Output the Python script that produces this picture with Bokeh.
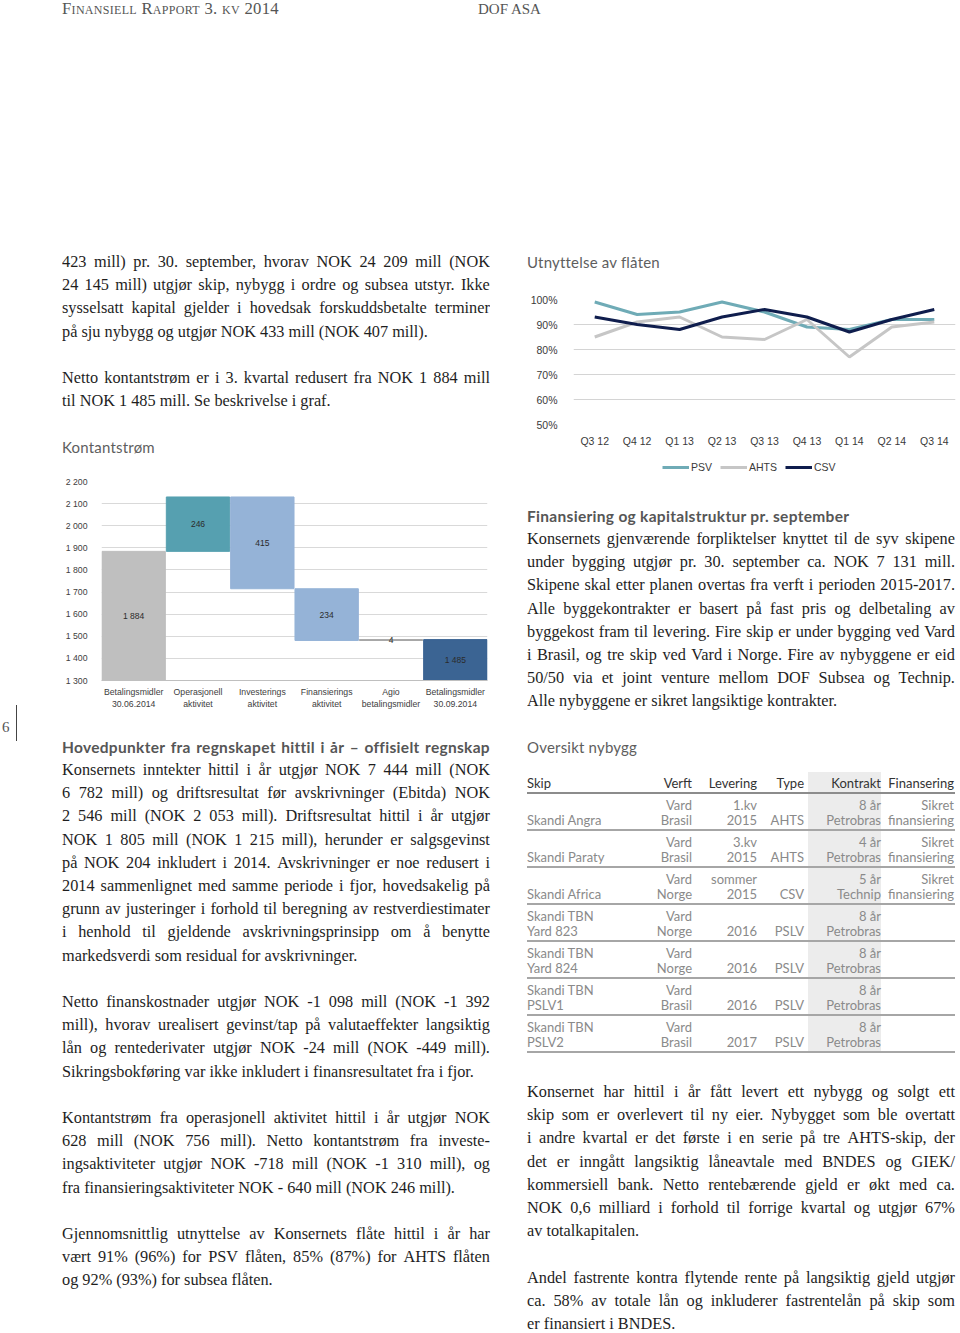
from bokeh.plotting import figure
from bokeh.models import (Div, FactorRange, FixedTicker, Legend, LegendItem,
                          ColumnDataSource, Range1d)
from bokeh.layouts import column, row
from bokeh.embed import file_html
from bokeh.resources import INLINE
from bokeh.core.properties import value

# ------------------------------------------------------------------ data
quarters = ["Q3 12", "Q4 12", "Q1 13", "Q2 13", "Q3 13", "Q4 13", "Q1 14", "Q2 14", "Q3 14"]
psv = [99, 94, 95, 99, 95, 89, 88, 92, 92]
ahts = [85, 91, 93, 85, 84, 92, 77, 89, 91]
csv_ = [93, 90, 88, 93, 96, 93, 87, 92, 96]
util_series = ["PSV", "AHTS", "CSV"]
util_colors = ["#6fabb6", "#c6c6c6", "#0f1d4d"]
util_ticks = [50, 60, 70, 80, 90, 100]
util_labels = ["50%", "60%", "70%", "80%", "90%", "100%"]

cash_categories = ["Betalingsmidler\n30.06.2014", "Operasjonell\naktivitet",
                   "Investerings\naktivitet", "Finansierings\naktivitet",
                   "Agio\nbetalingsmidler", "Betalingsmidler\n30.09.2014"]
cash_start = 1884
cash_changes = [246, -415, -234, 4]
cash_end = 1485
cash_ticks = [1300, 1400, 1500, 1600, 1700, 1800, 1900, 2000, 2100, 2200]
cash_tick_labels = ["1 300", "1 400", "1 500", "1 600", "1 700", "1 800",
                    "1 900", "2 000", "2 100", "2 200"]
cash_colors = ["#bfbfbf", "#56a0b0", "#95b3d7", "#95b3d7", "#a6a6a6", "#3b6493"]

header_left = "Finansiell Rapport 3. kv 2014"
header_right = "DOF ASA"
page_no = "6"

para_top_left = [
    ["423 mill) pr. 30. september, hvorav NOK 24 209 mill (NOK",
     "24 145 mill) utgjør skip, nybygg i ordre og subsea utstyr. Ikke",
     "sysselsatt kapital gjelder i hovedsak forskuddsbetalte terminer",
     "på sju nybygg og utgjør NOK 433 mill (NOK 407 mill)."],
    ["Netto kontantstrøm er i 3. kvartal redusert fra NOK 1 884 mill",
     "til NOK 1 485 mill. Se beskrivelse i graf."],
]
title_cash = "Kontantstrøm"
title_util = "Utnyttelse av flåten"

heading_fin = "Finansiering og kapitalstruktur pr. september"
para_fin = [
    ["Konsernets gjenværende forpliktelser knyttet til de syv skipene",
     "under bygging utgjør pr. 30. september ca. NOK 7 131 mill.",
     "Skipene skal etter planen overtas fra verft i perioden 2015-2017.",
     "Alle byggekontrakter er basert på fast pris og delbetaling av",
     "byggekost fram til levering. Fire skip er under bygging ved Vard",
     "i Brasil, og tre skip ved Vard i Norge. Fire av nybyggene er eid",
     "50/50 via et joint venture mellom DOF Subsea og Technip.",
     "Alle nybyggene er sikret langsiktige kontrakter."],
]

heading_main = "Hovedpunkter fra regnskapet hittil i år – offisielt regnskap"
para_main = [
    ["Konsernets inntekter hittil i år utgjør NOK 7 444 mill (NOK",
     "6 782 mill) og driftsresultat før avskrivninger (Ebitda) NOK",
     "2 546 mill (NOK 2 053 mill). Driftsresultat hittil i år utgjør",
     "NOK 1 805 mill (NOK 1 215 mill), herunder er salgsgevinst",
     "på NOK 204 inkludert i 2014. Avskrivninger er noe redusert i",
     "2014 sammenlignet med samme periode i fjor, hovedsakelig på",
     "grunn av justeringer i forhold til beregning av restverdiestimater",
     "i henhold til gjeldende avskrivningsprinsipp om å benytte",
     "markedsverdi som residual for avskrivninger."],
    ["Netto finanskostnader utgjør NOK -1 098 mill (NOK -1 392",
     "mill), hvorav urealisert gevinst/tap på valutaeffekter langsiktig",
     "lån og rentederivater utgjør NOK -24 mill (NOK -449 mill).",
     "Sikringsbokføring var ikke inkludert i finansresultatet fra i fjor."],
    ["Kontantstrøm fra operasjonell aktivitet hittil i år utgjør NOK",
     "628 mill (NOK 756 mill). Netto kontantstrøm fra investe-",
     "ingsaktiviteter utgjør NOK -718 mill (NOK -1 310 mill), og",
     "fra finansieringsaktiviteter NOK - 640 mill (NOK 246 mill)."],
    ["Gjennomsnittlig utnyttelse av Konsernets flåte hittil i år har",
     "vært 91% (96%) for PSV flåten, 85% (87%) for AHTS flåten",
     "og 92% (93%) for subsea flåten."],
]

title_table = "Oversikt nybygg"
table_headers = ["Skip", "Verft", "Levering", "Type", "Kontrakt", "Finansering"]
col_skip = ["Skandi Angra", "Skandi Paraty", "Skandi Africa", "Skandi TBN\nYard 823",
            "Skandi TBN\nYard 824", "Skandi TBN\nPSLV1", "Skandi TBN\nPSLV2"]
col_verft = ["Vard\nBrasil", "Vard\nBrasil", "Vard\nNorge", "Vard\nNorge",
             "Vard\nNorge", "Vard\nBrasil", "Vard\nBrasil"]
col_levering = ["1.kv\n2015", "3.kv\n2015", "sommer\n2015", "2016", "2016", "2016", "2017"]
col_type = ["AHTS", "AHTS", "CSV", "PSLV", "PSLV", "PSLV", "PSLV"]
col_kontrakt = ["8 år\nPetrobras", "4 år\nPetrobras", "5 år\nTechnip", "8 år\nPetrobras",
                "8 år\nPetrobras", "8 år\nPetrobras", "8 år\nPetrobras"]
col_finans = ["Sikret\nfinansiering", "Sikret\nfinansiering", "Sikret\nfinansiering",
              "", "", "", ""]

para_bottom_right = [
    ["Konsernet har hittil i år fått levert ett nybygg og solgt ett",
     "skip som er overlevert til ny eier. Nybygget som ble overtatt",
     "i andre kvartal er det første i en serie på tre AHTS-skip, der",
     "det er inngått langsiktig låneavtale med BNDES og GIEK/",
     "kommersiell bank. Netto rentebærende gjeld er økt med ca.",
     "NOK 0,6 milliard i forhold til forrige kvartal og utgjør 67%",
     "av totalkapitalen."],
    ["Andel fastrente kontra flytende rente på langsiktig gjeld utgjør",
     "ca. 58% av totale lån og inkluderer fastrentelån på skip som",
     "er finansiert i BNDES."],
]

# ------------------------------------------------------------------ styles
SERIF = "'Liberation Serif', 'Times New Roman', serif"
SANS = "'Lato', 'Open Sans', sans-serif"
CHART_FONT = "Liberation Sans"
LH = 23.2      # line pitch
BOXH = 16      # line box height
BODY = f"font-family:{SERIF};font-size:16.3px;color:#1e1e1e;"
HEAD = f"font-family:{SANS};font-size:15.5px;font-weight:bold;color:#565656;letter-spacing:0.3px;"
TITLE = f"font-family:{SANS};font-size:15px;color:#5e5e5e;letter-spacing:0.2px;"


def line_div(text, left, center, width, justify, style):
    if justify:
        inner = "".join(f"<span>{w}</span>" for w in text.split())
        extra = "display:flex;justify-content:space-between;"
    else:
        inner = text
        extra = ""
    return (f'<div style="position:absolute;left:{left}px;top:{center - BOXH / 2:.1f}px;width:{width}px;'
            f'height:{BOXH}px;line-height:{BOXH}px;white-space:nowrap;{extra}{style}">{inner}</div>')


def paragraphs(paras, left, first_center, width):
    out = []
    y = first_center
    for para in paras:
        for i, ln in enumerate(para):
            out.append(line_div(ln, left, y, width, i < len(para) - 1, BODY))
            y += LH
        y += LH
    return "".join(out)


def text_at(text, left, center, style, lh=18):
    return (f'<div style="position:absolute;left:{left}px;top:{center - lh / 2:.1f}px;'
            f'height:{lh}px;line-height:{lh}px;white-space:nowrap;{style}">{text}</div>')


def box(inner, w, h):
    return Div(text=f'<div style="position:relative;width:{w}px;height:{h}px;overflow:hidden;">{inner}</div>',
               width=w, height=h, margin=0)


# ------------------------------------------------------------------ top
top_inner = (text_at(header_left, 62, 9, f"font-family:{SERIF};font-size:16.7px;"
                     "font-variant:small-caps;color:#555;letter-spacing:0.3px;")
             + text_at(header_right, 478, 9, f"font-family:{SERIF};font-size:15px;color:#555;"))
top_div = box(top_inner, 960, 245)

# ------------------------------------------------------------------ left middle
lm_inner = (paragraphs(para_top_left, 0, 262 - 245, 428)
            + text_at(title_cash, 0, 447 - 245, TITLE))
left_text = box(lm_inner, 428, 220)

# waterfall
bottoms, tops, labels = [0], [cash_start], [cash_start]
level = cash_start
for ch in cash_changes:
    bottoms.append(min(level, level + ch))
    tops.append(max(level, level + ch))
    labels.append(abs(ch))
    level += ch
bottoms.append(0)
tops.append(cash_end)
labels.append(cash_end)
ymin, ymax = cash_ticks[0], cash_ticks[-1]
label_y = [(max(b, ymin) + t) / 2 for b, t in zip(bottoms, tops)]
label_txt = [f"{v:,}".replace(",", " ") for v in labels]

src_w = ColumnDataSource(dict(x=cash_categories, bottom=bottoms, top=tops,
                              color=cash_colors, ly=label_y, lt=label_txt))
p1 = figure(x_range=FactorRange(*cash_categories), y_range=Range1d(ymin, ymax),
            width=428, height=250, output_backend="svg", toolbar_location=None,
            min_border_left=34, min_border_right=3, min_border_top=16, min_border_bottom=35)
p1.vbar(x="x", bottom="bottom", top="top", width=0.985, color="color", source=src_w)
p1.text(x="x", y="ly", text="lt", source=src_w, text_align="center", text_baseline="middle",
        text_font_size="8.5px", text_color="#2b2b2b", text_font=value(CHART_FONT))
p1.outline_line_color = None
p1.xgrid.visible = False
p1.ygrid.ticker = FixedTicker(ticks=cash_ticks)
p1.ygrid.grid_line_color = "#d9d9d9"
p1.yaxis.ticker = FixedTicker(ticks=cash_ticks)
p1.yaxis.major_label_overrides = dict(zip(cash_ticks, cash_tick_labels))
p1.yaxis.axis_line_color = None
p1.yaxis.major_tick_line_color = None
p1.yaxis.minor_tick_line_color = None
p1.yaxis.major_label_standoff = 8
p1.xaxis.axis_line_color = "#bfbfbf"
p1.xaxis.major_tick_line_color = None
p1.xaxis.major_tick_out = 0
p1.xaxis.major_label_standoff = 6
for ax in (p1.xaxis[0], p1.yaxis[0]):
    ax.major_label_text_font = CHART_FONT
    ax.major_label_text_font_size = "8.7px"
    ax.major_label_text_color = "#404040"

left_col = column(left_text, p1, spacing=0, margin=0)

# ------------------------------------------------------------------ right middle
title_div = box(text_at(title_util, 0, 262 - 245, TITLE), 433, 35)

src_u = ColumnDataSource(dict(q=quarters, PSV=psv, AHTS=ahts, CSV=csv_))
p2 = figure(x_range=FactorRange(*quarters), y_range=Range1d(util_ticks[0], util_ticks[-1]),
            width=433, height=174, output_backend="svg", toolbar_location=None,
            min_border_left=41, min_border_right=5, min_border_top=19, min_border_bottom=30)
for name, col in zip(util_series, util_colors):
    p2.line("q", name, source=src_u, line_color=col, line_width=3)
p2.outline_line_color = None
p2.xgrid.visible = False
p2.ygrid.ticker = FixedTicker(ticks=util_ticks)
p2.ygrid.grid_line_color = "#d4d4d4"
p2.yaxis.ticker = FixedTicker(ticks=util_ticks)
p2.yaxis.major_label_overrides = dict(zip(util_ticks, util_labels))
p2.yaxis.axis_line_color = None
p2.yaxis.major_tick_line_color = None
p2.yaxis.minor_tick_line_color = None
p2.yaxis.major_label_standoff = 10
p2.xaxis.axis_line_color = None
p2.xaxis.major_tick_line_color = None
p2.xaxis.major_tick_out = 0
p2.xaxis.major_label_standoff = 10
for ax in (p2.xaxis[0], p2.yaxis[0]):
    ax.major_label_text_font = CHART_FONT
    ax.major_label_text_font_size = "10.5px"
    ax.major_label_text_color = "#3a3a3a"

# legend strip under the line chart (the series lie outside this strip's view,
# only their legend entries show)
p3 = figure(width=433, height=26, x_range=p2.x_range, y_range=Range1d(0, 1),
            x_axis_type=None, y_axis_type=None, output_backend="svg",
            toolbar_location=None, min_border=0)
p3.outline_line_color = None
p3.grid.visible = False
items = []
for name, col in zip(util_series, util_colors):
    r = p3.line("q", name, source=src_u, line_color=col, line_width=3)
    items.append(LegendItem(label=name, renderers=[r]))
legend = Legend(items=items, orientation="horizontal", location=(89, 7),
                border_line_color=None, background_fill_alpha=0,
                label_text_font=CHART_FONT, label_text_font_size="10.5px",
                label_text_color="#3a3a3a", glyph_width=27, glyph_height=10,
                label_height=12, label_standoff=2, spacing=8, padding=2, margin=0)
p3.add_layout(legend)

rm_inner = (line_div(heading_fin, 0, 516 - 480, 428, False, HEAD)
            + paragraphs(para_fin, 0, 539 - 480, 428))
right_text = box(rm_inner, 433, 235)
right_col = column(title_div, p2, p3, right_text, spacing=0, margin=0)

lm_spacer = box('<div style="position:absolute;left:16px;top:460px;width:1px;height:10px;'
                'background:#444;"></div>', 62, 470)
gap = box("", 37, 470)
middle = row(lm_spacer, left_col, gap, right_col, spacing=0, margin=0)

# ------------------------------------------------------------------ bottom
B0 = 715
b = []
b.append(text_at(page_no, 2, 727 - B0, f"font-family:{SERIF};font-size:15px;color:#555;"))
b.append('<div style="position:absolute;left:16px;top:0px;width:1px;height:26px;background:#444;"></div>')
# left column
b.append(line_div(heading_main, 62, 747 - B0, 428, True, HEAD))
b.append(paragraphs(para_main, 62, 770 - B0, 428))
# right column: table
b.append(text_at(title_table, 527, 747 - B0, TITLE))
b.append(f'<div style="position:absolute;left:808px;top:{772 - B0}px;width:73px;'
         f'height:{1052 - 772}px;background:#ececec;"></div>')
col_defs = [(col_skip, 527, "left"), (col_verft, 692, "right"), (col_levering, 757, "right"),
            (col_type, 804, "right"), (col_kontrakt, 881, "right"), (col_finans, 954, "right")]
CELL = f"font-family:{SANS};font-size:13px;color:#8a8a8a;"
HCELL = f"font-family:{SANS};font-size:13px;color:#333;"


def cell(text, x, align, center, style):
    pos = f"left:{x}px;" if align == "left" else f"right:{960 - x}px;"
    return (f'<div style="position:absolute;{pos}top:{center - 7.5:.1f}px;height:15px;'
            f'line-height:15px;white-space:nowrap;{style}">{text}</div>')


for (vals, x, align), h in zip(col_defs, table_headers):
    b.append(cell(h, x, align, 783 - B0, HCELL))
b.append(f'<div style="position:absolute;left:527px;top:{792 - B0}px;width:428px;height:2px;background:#8c8c8c;"></div>')
PITCH = 37.05
for i in range(len(col_skip)):
    l1 = 805 - B0 + i * PITCH
    l2 = l1 + 15
    for vals, x, align in col_defs:
        parts = vals[i].split("\n") if vals[i] else []
        if len(parts) == 2:
            b.append(cell(parts[0], x, align, l1, CELL))
            b.append(cell(parts[1], x, align, l2, CELL))
        elif len(parts) == 1:
            b.append(cell(parts[0], x, align, l2, CELL))
    sep = l1 + 23.5
    b.append(f'<div style="position:absolute;left:527px;top:{sep:.1f}px;width:428px;height:2px;background:#a6a6a6;"></div>')
# right column text
b.append(paragraphs(para_bottom_right, 527, 1092 - B0, 428))
bottom_div = box("".join(b), 960, 618)

root = column(top_div, middle, bottom_div, spacing=0, margin=0)

with open("out.html", "w") as f:
    f.write(file_html(root, INLINE, title="DOF ASA - Finansiell rapport 3. kv 2014"))
